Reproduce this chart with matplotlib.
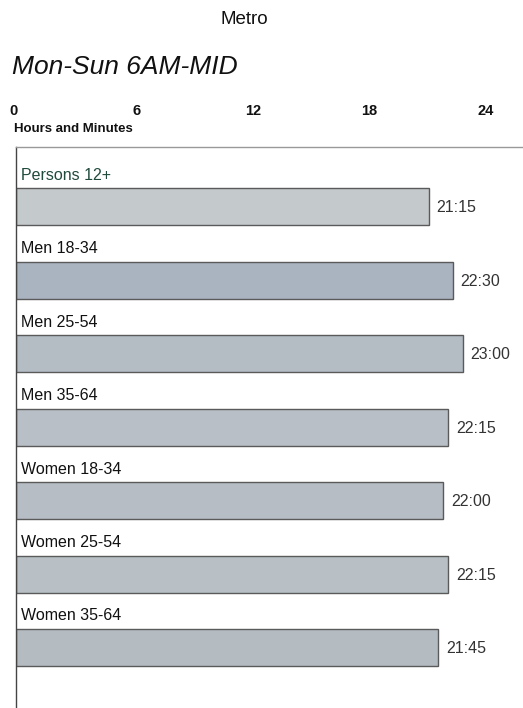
import matplotlib
matplotlib.use("Agg")
import matplotlib.pyplot as plt
from matplotlib import font_manager

fams = {f.name for f in font_manager.fontManager.ttflist}
narrow = 'Liberation Sans Narrow' if 'Liberation Sans Narrow' in fams else 'Liberation Sans'
plt.rcParams['font.family'] = [narrow, 'DejaVu Sans']

categories = ["Persons 12+", "Men 18-34", "Men 25-54", "Men 35-64",
              "Women 18-34", "Women 25-54", "Women 35-64"]
hours = [21.25, 22.5, 23.0, 22.25, 22.0, 22.25, 21.75]
value_labels = ["21:15", "22:30", "23:00", "22:15", "22:00", "22:15", "21:45"]
ticks = [0, 6, 12, 18, 24]
bar_colors = ["#c4c9cc", "#aab3c0", "#b4bcc4", "#b8bfc6", "#b6bdc4", "#b8c0c6", "#b4bcc2"]
label_colors = ["#1f4a3c"] + ["#111111"] * 6

W, H = 523, 708
fig = plt.figure(figsize=(W / 100, H / 100), dpi=100)

left_px, top_px = 16, 147
ax = fig.add_axes([left_px / W, 0, 1 - left_px / W, 1 - top_px / H])
scale = 19.42  # px per hour
xmax = (W - left_px) / scale
ax.set_xlim(0, xmax)
ax.set_ylim(H - top_px, 0)

bar_top0 = 188 - top_px
step = 73.5
bar_h = 37
for i, (c, v, lab, col, lc) in enumerate(zip(categories, hours, value_labels, bar_colors, label_colors)):
    y0 = bar_top0 + i * step
    ax.barh(y0 + bar_h / 2, v, height=bar_h, left=0, color=col,
            edgecolor="#5a5a5a", linewidth=1.0)
    ax.text(0.25, y0 - 13, c, fontsize=11.5, color=lc, va="center", ha="left")
    ax.text(v + 0.4, y0 + bar_h / 2 + 1, lab, fontsize=11.5, color="#333333",
            va="center", ha="left")

ax.set_yticks([])
ax.set_xticks([])
for s in ["right", "bottom"]:
    ax.spines[s].set_visible(False)
ax.spines["left"].set_color("#444444")
ax.spines["top"].set_color("#999999")
ax.spines["left"].set_linewidth(1.0)
ax.spines["top"].set_linewidth(1.0)

for t in ticks:
    xf = (left_px + t * scale + (-2 if t == 0 else 4)) / W
    fig.text(xf, 1 - 111 / H, str(t), fontsize=10.5, fontweight="bold",
             ha="center", va="center", color="#111111")
fig.text(14 / W, 1 - 129 / H, "Hours and Minutes", fontsize=9.5, fontweight="bold",
         ha="left", va="center", color="#111111")

fig.text(244 / W, 1 - 20 / H, "Metro", fontsize=13.5, ha="center", va="center", color="#111111")
fig.text(12 / W, 1 - 67 / H, "Mon-Sun 6AM-MID", fontsize=19, style="italic",
         ha="left", va="center", color="#111111")

fig.savefig("out.png", dpi=100, facecolor="white")
